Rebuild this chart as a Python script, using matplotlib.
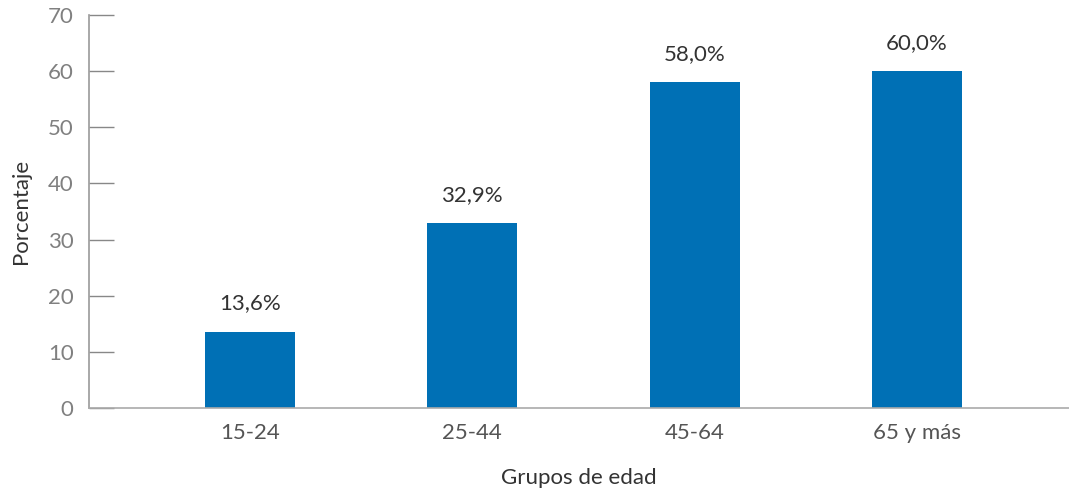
import matplotlib.pyplot as plt
import numpy as np

plt.rcParams["font.family"] = ["Lato", "DejaVu Sans"]

grupos = ["15-24", "25-44", "45-64", "65 y más"]
porcentaje = [13.6, 32.9, 58.0, 60.0]
etiquetas = ["13,6%", "32,9%", "58,0%", "60,0%"]

fig = plt.figure(figsize=(10.69, 4.92), dpi=100)
ax = fig.add_axes([89 / 1069, 1 - 408 / 492, 1 - 89 / 1069, (408 - 15) / 492])

x = np.arange(len(grupos))
bars = ax.bar(x, porcentaje, width=0.405, color="#0070b5", zorder=2)

# etiquetas de valor encima de cada barra
for xi, yi, lab in zip(x, porcentaje, etiquetas):
    ax.annotate(lab, (xi, yi), xytext=(0, 13), textcoords="offset points",
                ha="center", va="bottom", fontsize=16, color="#333333")

ax.set_xlim(-0.724, 3.684)
ax.set_ylim(0, 70)
ax.set_yticks(np.arange(0, 71, 10))
ax.set_xticks(x)
ax.set_xticklabels(grupos)

for s in ["top", "right"]:
    ax.spines[s].set_visible(False)
ax.spines["left"].set_color("#999999")
ax.spines["bottom"].set_color("#aaaaaa")
ax.spines["left"].set_linewidth(1.2)
ax.spines["bottom"].set_linewidth(1.2)

ax.tick_params(axis="y", direction="in", length=18, width=1, color="#888888",
               pad=11, labelsize=16, labelcolor="#808080")
ax.tick_params(axis="x", length=0, pad=11, labelsize=16, labelcolor="#555555")

ax.set_ylabel("Porcentaje", fontsize=16, color="#333333", labelpad=12)
ax.set_xlabel("Grupos de edad", fontsize=16, color="#333333", labelpad=18)

fig.savefig("out.png", dpi=100)
